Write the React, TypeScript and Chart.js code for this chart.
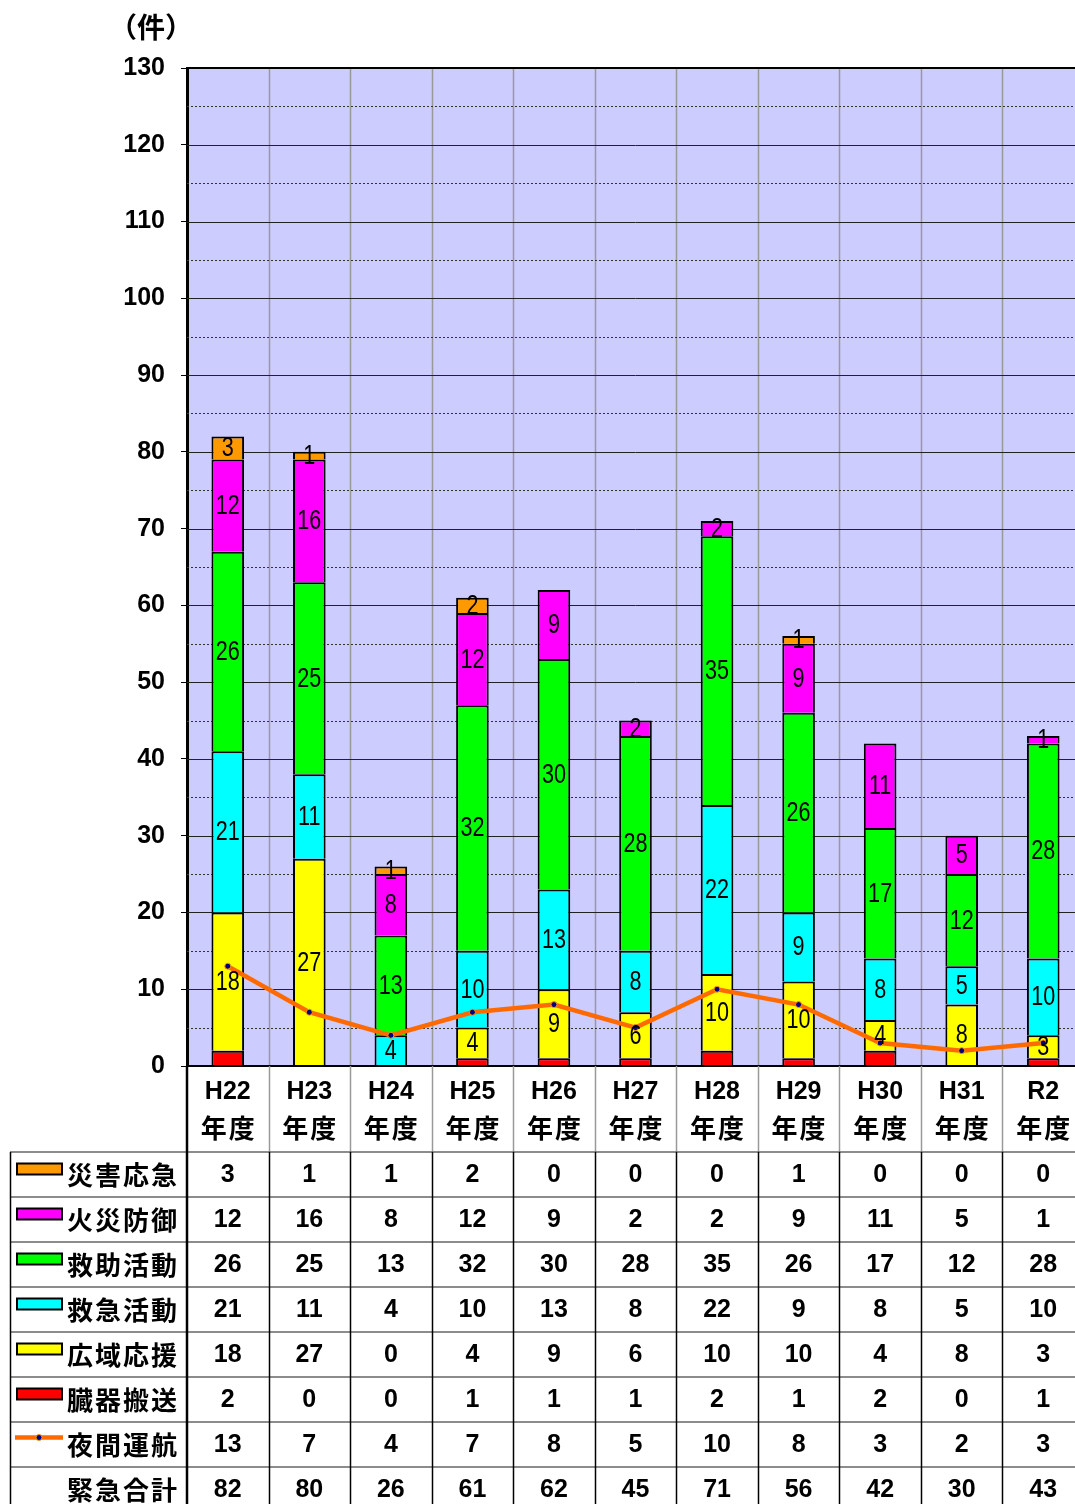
import React, { useEffect, useRef } from "react";
import { Chart, registerables } from "chart.js";

Chart.register(...registerables);

const categories = ["H22", "H23", "H24", "H25", "H26", "H27", "H28", "H29", "H30", "H31", "R2"];
const categorySuffix = "年度";
const unitLabel = "（件）";

const disasterLabel = "災害応急";
const fireLabel = "火災防御";
const rescueLabel = "救助活動";
const emergencyLabel = "救急活動";
const wideLabel = "広域応援";
const organLabel = "臓器搬送";
const nightLabel = "夜間運航";
const totalLabel = "緊急合計";

const disaster = [3, 1, 1, 2, 0, 0, 0, 1, 0, 0, 0];
const fire = [12, 16, 8, 12, 9, 2, 2, 9, 11, 5, 1];
const rescue = [26, 25, 13, 32, 30, 28, 35, 26, 17, 12, 28];
const emergency = [21, 11, 4, 10, 13, 8, 22, 9, 8, 5, 10];
const wide = [18, 27, 0, 4, 9, 6, 10, 10, 4, 8, 3];
const organ = [2, 0, 0, 1, 1, 1, 2, 1, 2, 0, 1];
const night = [13, 7, 4, 7, 8, 5, 10, 8, 3, 2, 3];
const totals = [82, 80, 26, 61, 62, 45, 71, 56, 42, 30, 43];

const yMin = 0;
const yMax = 130;
const yStep = 10;

const COLORS = {
  disaster: "#FF9900",
  fire: "#FF00FF",
  rescue: "#00FF00",
  emergency: "#00FFFF",
  wide: "#FFFF00",
  organ: "#FF0000",
  line: "#FF6A00",
  bg: "#CCCCFF",
};

const NUM_BOLD = 'bold 25px "Liberation Sans", Arial, sans-serif';
const CJK_BOLD = 'bold 26px "Noto Sans CJK JP", sans-serif';
const LABEL_FONT = '27px "Liberation Sans", Arial, sans-serif';
const LABEL_SQUEEZE = 0.8;

export default function App() {
  const ref = useRef<HTMLCanvasElement | null>(null);

  useEffect(() => {
    const canvas = ref.current;
    if (!canvas) return;

    const tableRows = [
      { label: disasterLabel, data: disaster, color: COLORS.disaster, kind: "box" },
      { label: fireLabel, data: fire, color: COLORS.fire, kind: "box" },
      { label: rescueLabel, data: rescue, color: COLORS.rescue, kind: "box" },
      { label: emergencyLabel, data: emergency, color: COLORS.emergency, kind: "box" },
      { label: wideLabel, data: wide, color: COLORS.wide, kind: "box" },
      { label: organLabel, data: organ, color: COLORS.organ, kind: "box" },
      { label: nightLabel, data: night, color: COLORS.line, kind: "line" },
      { label: totalLabel, data: totals, color: "", kind: "none" },
    ];

    const plotPlugin = {
      id: "plotDeco",
      beforeDraw(chart: any) {
        const { ctx, chartArea: a } = chart;
        ctx.save();
        ctx.fillStyle = "#ffffff";
        ctx.fillRect(0, 0, chart.width, chart.height);
        ctx.fillStyle = COLORS.bg;
        ctx.fillRect(a.left, a.top, a.right - a.left, a.bottom - a.top);
        ctx.restore();
      },
      beforeDatasetsDraw(chart: any) {
        const { ctx, chartArea: a } = chart;
        const ys = chart.scales.y;
        const xs = chart.scales.x;
        ctx.save();
        const w = xs.getPixelForValue(1) - xs.getPixelForValue(0);
        ctx.strokeStyle = "#999999";
        ctx.lineWidth = 1.5;
        for (let i = 1; i < categories.length; i++) {
          const x = Math.round(xs.getPixelForValue(i) - w / 2) + 0.5;
          ctx.beginPath();
          ctx.moveTo(x, a.top);
          ctx.lineTo(x, a.bottom);
          ctx.stroke();
        }
        const ticks = ys.ticks.map((t: any) => t.value);
        for (let i = 0; i < ticks.length; i++) {
          const v = ticks[i];
          if (v !== yMin && v !== yMax) {
            const y = Math.round(ys.getPixelForValue(v)) + 0.5;
            ctx.setLineDash([]);
            ctx.strokeStyle = "#222222";
            ctx.lineWidth = 1;
            ctx.beginPath();
            ctx.moveTo(a.left, y);
            ctx.lineTo(a.right, y);
            ctx.stroke();
          }
          if (i < ticks.length - 1) {
            const mid = (ticks[i] + ticks[i + 1]) / 2;
            const y = Math.round(ys.getPixelForValue(mid)) + 0.5;
            ctx.setLineDash([2, 2]);
            ctx.strokeStyle = "#333333";
            ctx.lineWidth = 1;
            ctx.beginPath();
            ctx.moveTo(a.left, y);
            ctx.lineTo(a.right, y);
            ctx.stroke();
          }
        }
        ctx.setLineDash([]);
        ctx.restore();
      },
      afterDatasetsDraw(chart: any) {
        const { ctx } = chart;
        ctx.save();
        ctx.font = LABEL_FONT;
        ctx.fillStyle = "#000000";
        ctx.textAlign = "center";
        ctx.textBaseline = "middle";
        chart.data.datasets.forEach((ds: any, di: number) => {
          if (ds.type !== "bar" || ds.noLabels) return;
          const meta = chart.getDatasetMeta(di);
          meta.data.forEach((el: any, i: number) => {
            const v = ds.data[i];
            if (!v) return;
            const p = el.getProps(["x", "y", "base"], true);
            ctx.save();
            ctx.translate(p.x, (p.y + p.base) / 2 + 1);
            ctx.scale(LABEL_SQUEEZE, 1);
            ctx.fillText(String(v), 0, 0);
            ctx.restore();
          });
        });
        ctx.restore();
      },
      afterDraw(chart: any) {
        const { ctx, chartArea: a } = chart;
        const xs = chart.scales.x;
        const w = xs.getPixelForValue(1) - xs.getPixelForValue(0);
        const n = categories.length;
        const headTop = a.bottom;
        const tableTop = headTop + 86;
        const rowH = 45;
        const tableLeft = 10;
        const tableBottom = chart.height + 10;
        ctx.save();
        ctx.strokeStyle = "#000";
        ctx.lineWidth = 2;
        ctx.beginPath();
        ctx.moveTo(a.left, a.top);
        ctx.lineTo(a.right, a.top);
        ctx.stroke();
        ctx.beginPath();
        ctx.moveTo(a.left, a.bottom);
        ctx.lineTo(a.right, a.bottom);
        ctx.stroke();

        ctx.strokeStyle = "#999999";
        ctx.lineWidth = 1.5;
        for (let i = 1; i < n; i++) {
          const x = Math.round(xs.getPixelForValue(i) - w / 2) + 0.5;
          ctx.beginPath();
          ctx.moveTo(x, headTop);
          ctx.lineTo(x, tableTop);
          ctx.stroke();
        }
        ctx.strokeStyle = "#666666";
        ctx.lineWidth = 1.5;
        for (let r = 0; r < tableRows.length; r++) {
          const y = tableTop + r * rowH;
          ctx.beginPath();
          ctx.moveTo(tableLeft, y);
          ctx.lineTo(a.right, y);
          ctx.stroke();
        }
        ctx.strokeStyle = "#000000";
        ctx.lineWidth = 1.5;
        for (let i = 1; i < n; i++) {
          const x = Math.round(xs.getPixelForValue(i) - w / 2) + 0.5;
          ctx.beginPath();
          ctx.moveTo(x, tableTop);
          ctx.lineTo(x, tableBottom);
          ctx.stroke();
        }
        ctx.beginPath();
        ctx.moveTo(tableLeft + 0.5, tableTop);
        ctx.lineTo(tableLeft + 0.5, tableBottom);
        ctx.stroke();
        ctx.lineWidth = 2.5;
        ctx.beginPath();
        ctx.moveTo(a.left, headTop);
        ctx.lineTo(a.left, tableBottom);
        ctx.stroke();

        ctx.fillStyle = "#000";
        ctx.textAlign = "center";
        ctx.textBaseline = "middle";
        for (let i = 0; i < n; i++) {
          const cx = xs.getPixelForValue(i);
          ctx.font = NUM_BOLD;
          ctx.fillText(categories[i], cx, headTop + 26);
          ctx.font = CJK_BOLD;
          (ctx as any).letterSpacing = "2px";
          ctx.fillText(categorySuffix, cx + 1, headTop + 62);
          (ctx as any).letterSpacing = "0px";
        }

        tableRows.forEach((row, r) => {
          const cy = tableTop + r * rowH + rowH / 2;
          if (row.kind === "box") {
            ctx.fillStyle = row.color;
            ctx.fillRect(17, cy - 11, 45, 11);
            ctx.strokeStyle = "#000";
            ctx.lineWidth = 2;
            ctx.strokeRect(17, cy - 11, 45, 11);
          } else if (row.kind === "line") {
            ctx.strokeStyle = row.color;
            ctx.lineWidth = 4.5;
            ctx.beginPath();
            ctx.moveTo(15, cy - 7);
            ctx.lineTo(63, cy - 7);
            ctx.stroke();
            ctx.beginPath();
            ctx.arc(39, cy - 7, 3, 0, Math.PI * 2);
            ctx.fillStyle = "#000080";
            ctx.fill();
            ctx.strokeStyle = "#FF9900";
            ctx.lineWidth = 1;
            ctx.stroke();
          }
          ctx.fillStyle = "#000";
          ctx.font = CJK_BOLD;
          ctx.textAlign = "left";
          (ctx as any).letterSpacing = "2px";
          ctx.fillText(row.label, 67, cy + 1);
          (ctx as any).letterSpacing = "0px";
          ctx.textAlign = "center";
          ctx.font = NUM_BOLD;
          row.data.forEach((v, i) => {
            ctx.fillText(String(v), xs.getPixelForValue(i), cy + 1);
          });
        });

        ctx.font = 'bold 28px "Noto Sans CJK JP", sans-serif';
        ctx.textAlign = "center";
        ctx.fillText(unitLabel, 151, 27);
        ctx.restore();
      },
    };

    const barBase = {
      type: "bar" as const,
      borderColor: "#000000",
      borderWidth: { top: 2, left: 2, right: 2, bottom: 0 },
      borderSkipped: false,
      barPercentage: 0.4,
      categoryPercentage: 1,
      stack: "s",
      order: 1,
    };

    const chart = new Chart(canvas, {
      type: "bar",
      data: {
        labels: categories,
        datasets: [
          { ...barBase, label: organLabel, data: organ, backgroundColor: COLORS.organ, noLabels: true } as any,
          { ...barBase, label: wideLabel, data: wide, backgroundColor: COLORS.wide } as any,
          { ...barBase, label: emergencyLabel, data: emergency, backgroundColor: COLORS.emergency } as any,
          { ...barBase, label: rescueLabel, data: rescue, backgroundColor: COLORS.rescue } as any,
          { ...barBase, label: fireLabel, data: fire, backgroundColor: COLORS.fire } as any,
          { ...barBase, label: disasterLabel, data: disaster, backgroundColor: COLORS.disaster } as any,
          {
            type: "line",
            label: nightLabel,
            data: night,
            borderColor: COLORS.line,
            borderWidth: 4.5,
            pointRadius: 3,
            pointBackgroundColor: "#000080",
            pointBorderColor: "#FF9900",
            pointBorderWidth: 1,
            tension: 0,
            stack: "line",
            order: 0,
          } as any,
        ],
      },
      options: {
        animation: false,
        responsive: false,
        devicePixelRatio: 1,
        layout: { padding: { left: 0, top: 68, right: 1.5, bottom: 438 } },
        plugins: { legend: { display: false }, tooltip: { enabled: false } },
        scales: {
          x: { display: false, stacked: true, offset: true },
          y: {
            stacked: true,
            min: yMin,
            max: yMax,
            ticks: {
              stepSize: yStep,
              color: "#000",
              font: { family: '"Liberation Sans", Arial, sans-serif', size: 25, weight: "bold" },
              padding: 16,
            },
            grid: {
              drawOnChartArea: false,
              drawTicks: true,
              tickLength: 6,
              tickColor: "#000",
              color: "#000",
            },
            border: { display: true, color: "#000", width: 3 },
            afterFit(scale: any) {
              scale.width = 187;
            },
          },
        },
      },
      plugins: [plotPlugin],
    } as any);

    return () => chart.destroy();
  }, []);

  return (
    <div
      style={{
        position: "fixed",
        left: 0,
        top: 0,
        width: 1075,
        height: 1504,
        overflow: "hidden",
        background: "#fff",
      }}
    >
      <canvas ref={ref} width={1089} height={1504} style={{ display: "block", width: 1089, height: 1504 }} />
    </div>
  );
}
